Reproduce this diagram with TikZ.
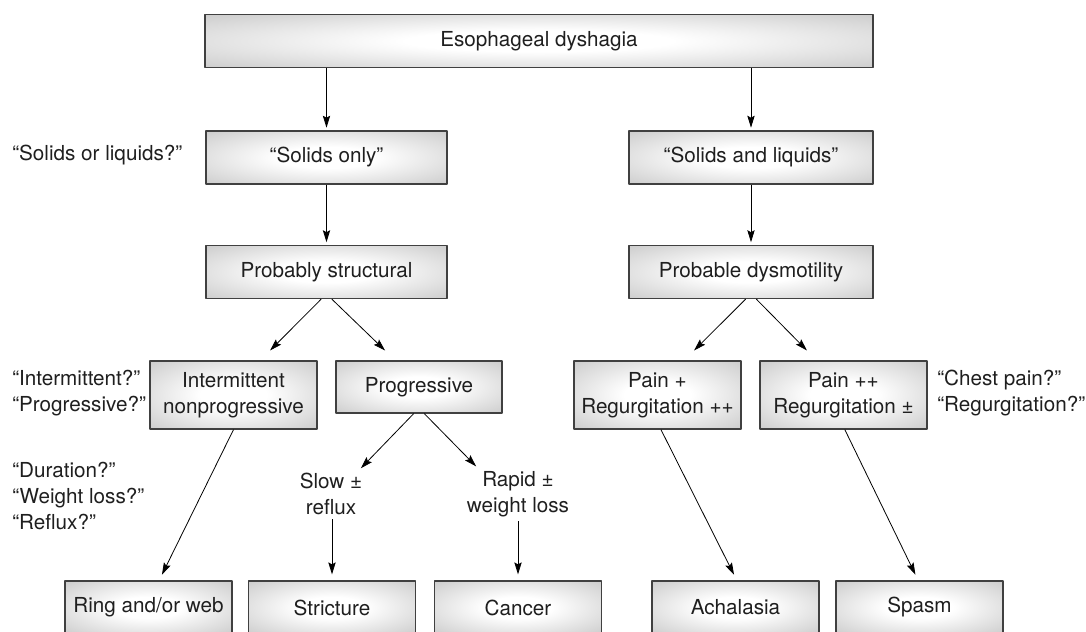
\documentclass[tikz,border=0pt]{standalone}
\usepackage{fontspec}
\setmainfont{TeX Gyre Heros}
\usetikzlibrary{arrows.meta}
\definecolor{boxgray}{gray}{0.72}
\definecolor{rimgray}{gray}{0.25}
\definecolor{inkgray}{gray}{0.12}
\pgfdeclareradialshading{boxglow}{\pgfpoint{0bp}{0bp}}{color(0bp)=(white); color(10bp)=(white); color(46bp)=(boxgray); color(50bp)=(boxgray)}
\begin{document}
\begin{tikzpicture}[x=0.75pt,y=-0.75pt,line join=round,
    >={Stealth[length=9pt,width=5.5pt,inset=1.5pt]},
    font=\fontsize{15.5}{19.5}\selectfont,text=inkgray,
    box/.style={draw=rimgray,line width=0.95pt,shading=boxglow,minimum width=125.25pt,minimum height=39.75pt,align=center,inner sep=2pt},
    ask/.style={anchor=west,align=left,inner sep=0pt},
    arr/.style={->,line width=0.6pt,black,shorten >=2pt}]
\useasboundingbox (0,0) rectangle (1086,632);
% boxes
\node[box,minimum width=501pt] (dysph) at (539,41) {Esophageal dyshagia};
\node[box,minimum width=180.75pt] (solids) at (326.5,157.5) {“Solids only”};
\node[box,minimum width=183pt] (both) at (751,157.5) {“Solids and liquids”};
\node[box,minimum width=180.75pt] (struct) at (326.5,272) {Probably structural};
\node[box,minimum width=183pt] (dysmot) at (751,272) {Probable dysmotility};
\node[box,minimum height=51pt] (intmt) at (233.5,395) {Intermittent\\nonprogressive};
\node[box,minimum width=124.5pt,minimum height=39pt] (progr) at (419,387) {Progressive};
\node[box,minimum height=51pt] (painA) at (657.5,395) {Pain +\\Regurgitation ++};
\node[box,minimum height=51pt] (painB) at (843.5,395) {Pain ++\\Regurgitation ±};
\node[box] (ring) at (148.5,607.5) {Ring and/or web};
\node[box] (strict) at (332,607.5) {Stricture};
\node[box] (cancer) at (518,607.5) {Cancer};
\node[box] (achal) at (735.5,607.5) {Achalasia};
\node[box] (spasm) at (919.5,607.5) {Spasm};
% questions and findings
\node[ask] (qsol) at (12,155) {“Solids or liquids?”};
\node[ask] (qprog) at (12,393) {“Intermittent?”\\“Progressive?”};
\node[ask] (qdur) at (12,496) {“Duration?”\\“Weight loss?”\\“Reflux?”};
\node[ask] (qchest) at (937,393) {“Chest pain?”\\“Regurgitation?”};
\node[align=center,inner sep=0pt] (slow) at (331,494) {Slow ±\\reflux};
\node[align=center,inner sep=0pt] (rapid) at (518,494) {Rapid ±\\weight loss};
% arrows
\draw[arr] (solids.north |- dysph.south) -- (solids.north);
\draw[arr] (both.north |- dysph.south) -- (both.north);
\draw[arr] (solids) -- (struct);
\draw[arr] (both) -- (dysmot);
\draw[arr] ([xshift=-4pt]struct.south) -- ([xshift=26pt,yshift=6pt]intmt.north);
\draw[arr] ([xshift=4pt]struct.south) -- ([xshift=-24pt,yshift=6pt]progr.north);
\draw[arr] ([xshift=-4pt]dysmot.south) -- ([xshift=26pt,yshift=6pt]painA.north);
\draw[arr] ([xshift=4pt]dysmot.south) -- ([xshift=-26pt,yshift=6pt]painB.north);
\draw[arr] ([xshift=-4pt]progr.south) -- ([xshift=21pt,yshift=2pt]slow.north);
\draw[arr] ([xshift=4pt]progr.south) -- ([xshift=-30pt,yshift=2pt]rapid.north);
\draw[arr,shorten <=3pt,shorten >=4.5pt] (strict.north |- slow.south) -- (strict.north);
\draw[arr,shorten <=3pt,shorten >=4.5pt] (cancer.north |- rapid.south) -- (cancer.north);
\draw[arr,shorten >=4.7pt] (intmt.south) -- ([xshift=8pt]ring.north);
\draw[arr,shorten >=4.7pt] ([xshift=2.6pt]painA.south) -- ([xshift=1pt]achal.north);
\draw[arr,shorten >=4.7pt] ([xshift=1pt]painB.south) -- ([xshift=-1pt]spasm.north);
\end{tikzpicture}
\end{document}
